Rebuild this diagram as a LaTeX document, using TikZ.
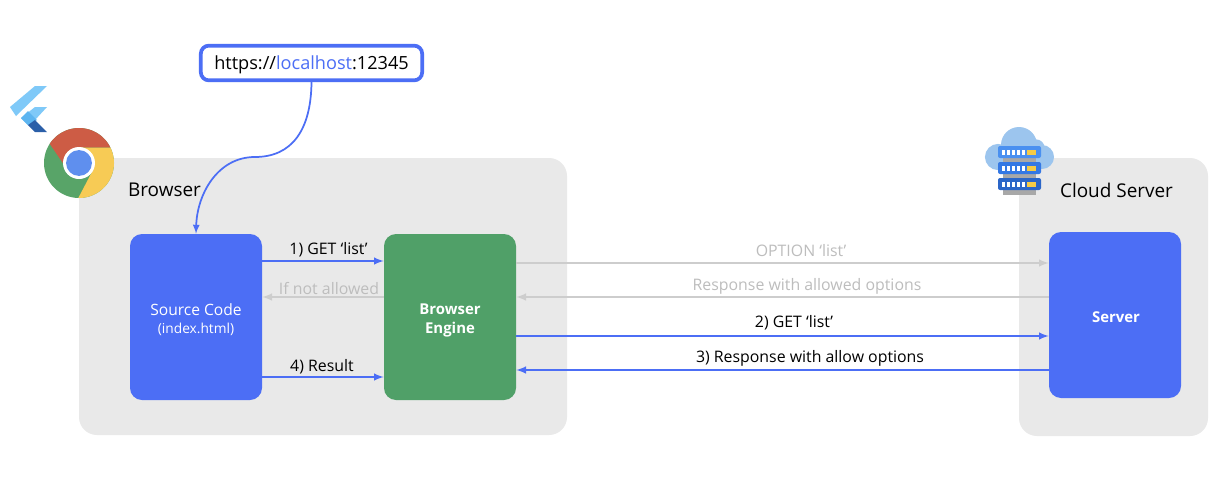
\documentclass[tikz,border=0pt]{standalone}
\usepackage{fontspec}
\setmainfont{Open Sans}
\usepackage{xcolor}
\definecolor{panelgray}{HTML}{E9E9E9}
\definecolor{mainblue}{HTML}{4C6EF5}
\definecolor{enginegreen}{HTML}{50A068}
\definecolor{fadeline}{HTML}{CDCDCD}
\definecolor{fadetext}{HTML}{BDBDBD}
\definecolor{flutterlight}{HTML}{7FC9F8}
\definecolor{fluttermid}{HTML}{5DB5F0}
\definecolor{flutterdark}{HTML}{2B5FA8}
\definecolor{chromered}{HTML}{CD5C45}
\definecolor{chromegreen}{HTML}{58A468}
\definecolor{chromeyellow}{HTML}{F7CB55}
\definecolor{chromeblue}{HTML}{5F8FEE}
\definecolor{cloudblue}{HTML}{9CC5EE}
\definecolor{rackone}{HTML}{4A90F0}
\definecolor{racktwo}{HTML}{3478E4}
\definecolor{rackthree}{HTML}{2B66C8}
\definecolor{rackshade}{HTML}{A8A8A8}
\definecolor{rackled}{HTML}{F6CB45}
\tikzset{
  panel/.style={fill=panelgray,rounded corners=13.5pt,inner sep=0pt},
  block/.style={rounded corners=9pt,minimum width=99pt,minimum height=124.5pt,inner sep=0pt,text=white,align=center,font=\fontsize{11.7}{14.6}\selectfont},
  title/.style={font=\fontsize{14.2}{18}\selectfont,inner sep=0pt},
  flow/.style={-latex,line width=1.5pt,mainblue},
  fadeflow/.style={-latex,line width=1.5pt,fadeline},
  flowlabel/.style={font=\fontsize{11.9}{14}\selectfont,inner sep=0pt},
  fadelabel/.style={flowlabel,text=fadetext},
}
\begin{document}
\begin{tikzpicture}[x=0.75pt,y=-0.75pt]
    \useasboundingbox (0,0) rectangle (1231,489);
    \fill[white] (0,0) rectangle (1231,489);

    % Panels
    \node[panel,minimum width=366pt,minimum height=207.75pt] (browser) at (323,296.5) {};
    \node[panel,minimum width=141.75pt,minimum height=208.5pt] (cloud) at (1113.5,297) {};
    \node[title] (browserlabel) at (164.5,190) {Browser};
    \node[title] (cloudlabel) at (1116.5,190) {Cloud Server};

    % Blocks
    \node[block,fill=mainblue] (source) at (196,317) {};
    \node[block,fill=enginegreen] (engine) at (450,317) {};
    \node[block,fill=mainblue] (server) at (1115,315) {};
    \node[text=white,inner sep=0pt,align=center,font=\fontsize{11.7}{14.6}\selectfont] (sourcetext) at (196,319.5) {Source Code\\[-1pt]{\fontsize{10.3}{12}\selectfont (index.html)}};
    \node[text=white,inner sep=0pt,align=center,font=\fontsize{11.2}{14.6}\selectfont\bfseries] (enginetext) at (450,320.5) {Browser\\Engine};
    \node[text=white,inner sep=0pt,font=\fontsize{11.2}{14.6}\selectfont\bfseries] (servertext) at (1116,317) {Server};

    % Address box
    \node[draw=mainblue,line width=2.8pt,fill=white,rounded corners=6pt,minimum width=166pt,minimum height=26pt,inner sep=0pt,text height=12pt,text depth=2.3pt,font=\fontsize{13.6}{16}\selectfont] (url) at (311.5,63) {https://\textcolor{mainblue}{localhost}:12345};
    \draw[flow,line width=1.3pt] (url.south) .. controls (311,130) and (292,157) .. (255,157) coordinate (bend) .. controls (217,157) and (197,195) .. (source.north);

    % Flutter logo
    \fill[flutterlight] (35,86) -- (47,86) -- (16,116) -- (10,107) -- cycle;
    \fill[flutterlight] (35,107) -- (47,107) -- (35,120) -- (28,125) -- (21,118) -- cycle;
    \fill[fluttermid] (21,118) -- (28,111) -- (37,120) -- (28,125) -- cycle;
    \fill[flutterdark] (28,125) -- (35,120) -- (47,132) -- (35,132) -- cycle;

    % Chrome logo
    \begin{scope}[shift={(79,163)}]
      \clip (0,0) circle (26.25pt);
      \fill[chromegreen] (-40,-40) rectangle (40,40);
      \fill[chromered] (0,-15.5) -- (45,-15.5) -- (45,-45) -- (-45,-45) -- (-36,-29) -- (-15.7,0.7) -- cycle;
      \fill[chromeyellow] (0,-15.5) -- (45,-15.5) -- (45,45) -- (-1,45) -- (-0.7,35) -- (14,7) -- cycle;
      \fill[white] (0,0) circle (12pt);
      \fill[chromeblue] (0,0) circle (9.7pt);
    \end{scope}

    % Cloud icon
    \fill[cloudblue] (1019,145) circle (13.5pt) (998,157) circle (9.8pt) (1042,157) circle (9pt) (1036,148) circle (6.5pt) (998,150) rectangle (1042,168);
    \foreach \y/\c in {146/rackone,162/racktwo,178/rackthree} {
      \fill[rackshade] (1003,\y+11) rectangle (1036,\y+17);
      \fill[\c,rounded corners=1.5pt] (998,\y) rectangle (1041,\y+12);
      \foreach \t in {1002,1007,1012,1017,1022} {
        \fill[white] (\t,\y+3.5) rectangle (\t+2.5,\y+8.5);
      }
      \fill[rackled] (1027,\y+3.5) rectangle (1036,\y+8.5);
    }

    % Flows on the browser side
    \draw[flow] ([yshift=42pt]source.east) coordinate (a1) -- (a1 -| engine.west);
    \draw[fadeflow] ([yshift=15pt]engine.west) coordinate (a2) -- (a2 -| source.east);
    \draw[flow] ([yshift=-45pt]source.east) coordinate (a3) -- (a3 -| engine.west);
    \node[flowlabel] (getone) at (328.5,250) {1) GET ‘list’};
    \node[fadelabel] (notallowed) at (329,289) {If not allowed};
    \node[flowlabel] (result) at (322,367) {4) Result};

    % Flows on the server side
    \draw[fadeflow] ([yshift=40.5pt]engine.east) coordinate (b1) -- (b1 -| server.west);
    \draw[fadeflow] ([yshift=13.5pt]server.west) coordinate (b2) -- (b2 -| engine.east);
    \draw[flow] ([yshift=-14.25pt]engine.east) coordinate (b3) -- (b3 -| server.west);
    \draw[flow] ([yshift=-41.25pt]server.west) coordinate (b4) -- (b4 -| engine.east);
    \node[fadelabel] (option) at (801,251) {OPTION ‘list’};
    \node[fadelabel] (allowed) at (807,286) {Response with allowed options};
    \node[flowlabel] (gettwo) at (794,323) {2) GET ‘list’};
    \node[flowlabel] (response) at (810,358) {3) Response with allow options};
\end{tikzpicture}
\end{document}
